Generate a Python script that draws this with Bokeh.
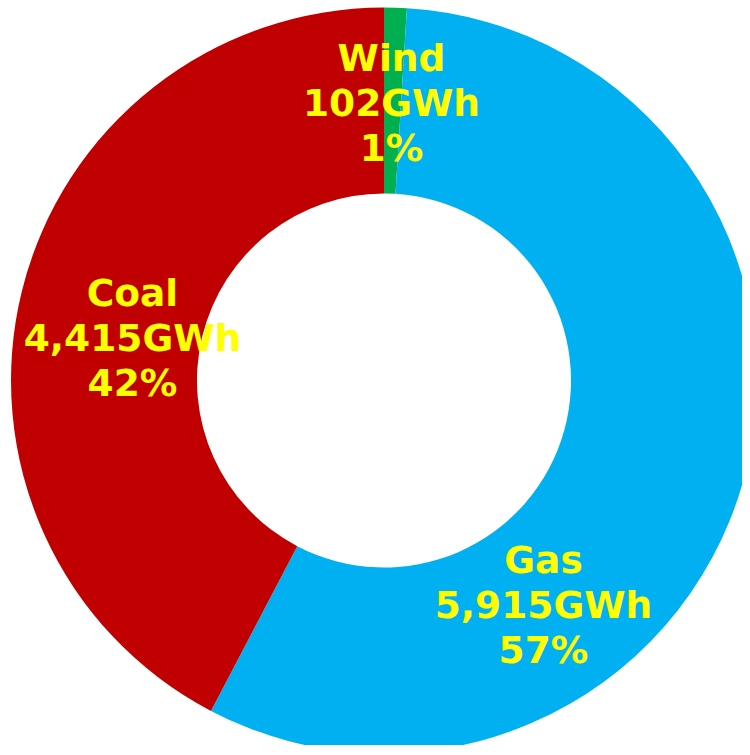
import math
from bokeh.plotting import figure
from bokeh.models import ColumnDataSource, Range1d
from bokeh.core.properties import value
from bokeh.embed import file_html
from bokeh.resources import INLINE

# ---- data ----
sources = ["Wind", "Gas", "Coal"]
gwh = [102, 5915, 4415]
colors = ["#00B050", "#00B0F0", "#C00000"]

# ---- layout ----
W, H = 742, 745
CX, CY = 383.5, H - 380
R_OUT, R_IN = 373, 187
# label anchor positions (canvas px of middle line)
label_pos = {"Wind": (391, 102.5), "Gas": (543, 604.5), "Coal": (132, 337.5)}
LINE_GAP = 45

total = sum(gwh)
starts, ends = [], []
a = math.pi / 2
for v in gwh:
    starts.append(a)
    a -= 2 * math.pi * v / total
    ends.append(a)

wedges = ColumnDataSource(dict(start=starts, end=ends, color=colors, name=sources))

p = figure(width=W, height=H, output_backend="svg", toolbar_location=None,
           x_range=Range1d(0, W), y_range=Range1d(0, H), min_border=0)
p.axis.visible = False
p.grid.visible = False
p.outline_line_color = None
p.background_fill_color = "white"
p.border_fill_color = "white"

p.annular_wedge(x=CX, y=CY, inner_radius=R_IN, outer_radius=R_OUT,
                start_angle="end", end_angle="start", direction="anticlock",
                fill_color="color", line_color=None, source=wedges)

lx, ly, t1, t2, t3 = [], [], [], [], []
for s, v in zip(sources, gwh):
    px, py = label_pos[s]
    lx.append(px)
    ly.append(H - py)
    t1.append(s)
    t2.append(f"{v:,}GWh")
    t3.append(f"{round(100 * v / total)}%")

for txt, off in ((t1, -LINE_GAP), (t2, 0), (t3, LINE_GAP)):
    src = ColumnDataSource(dict(x=lx, y=ly, text=txt))
    p.text(x="x", y="y", text="text", source=src, y_offset=off,
           text_align="center", text_baseline="middle",
           text_font=value("DejaVu Sans"), text_font_style="bold",
           text_font_size="37.5px", text_color="#FFFF00")

open("out.html", "w").write(file_html(p, INLINE))
